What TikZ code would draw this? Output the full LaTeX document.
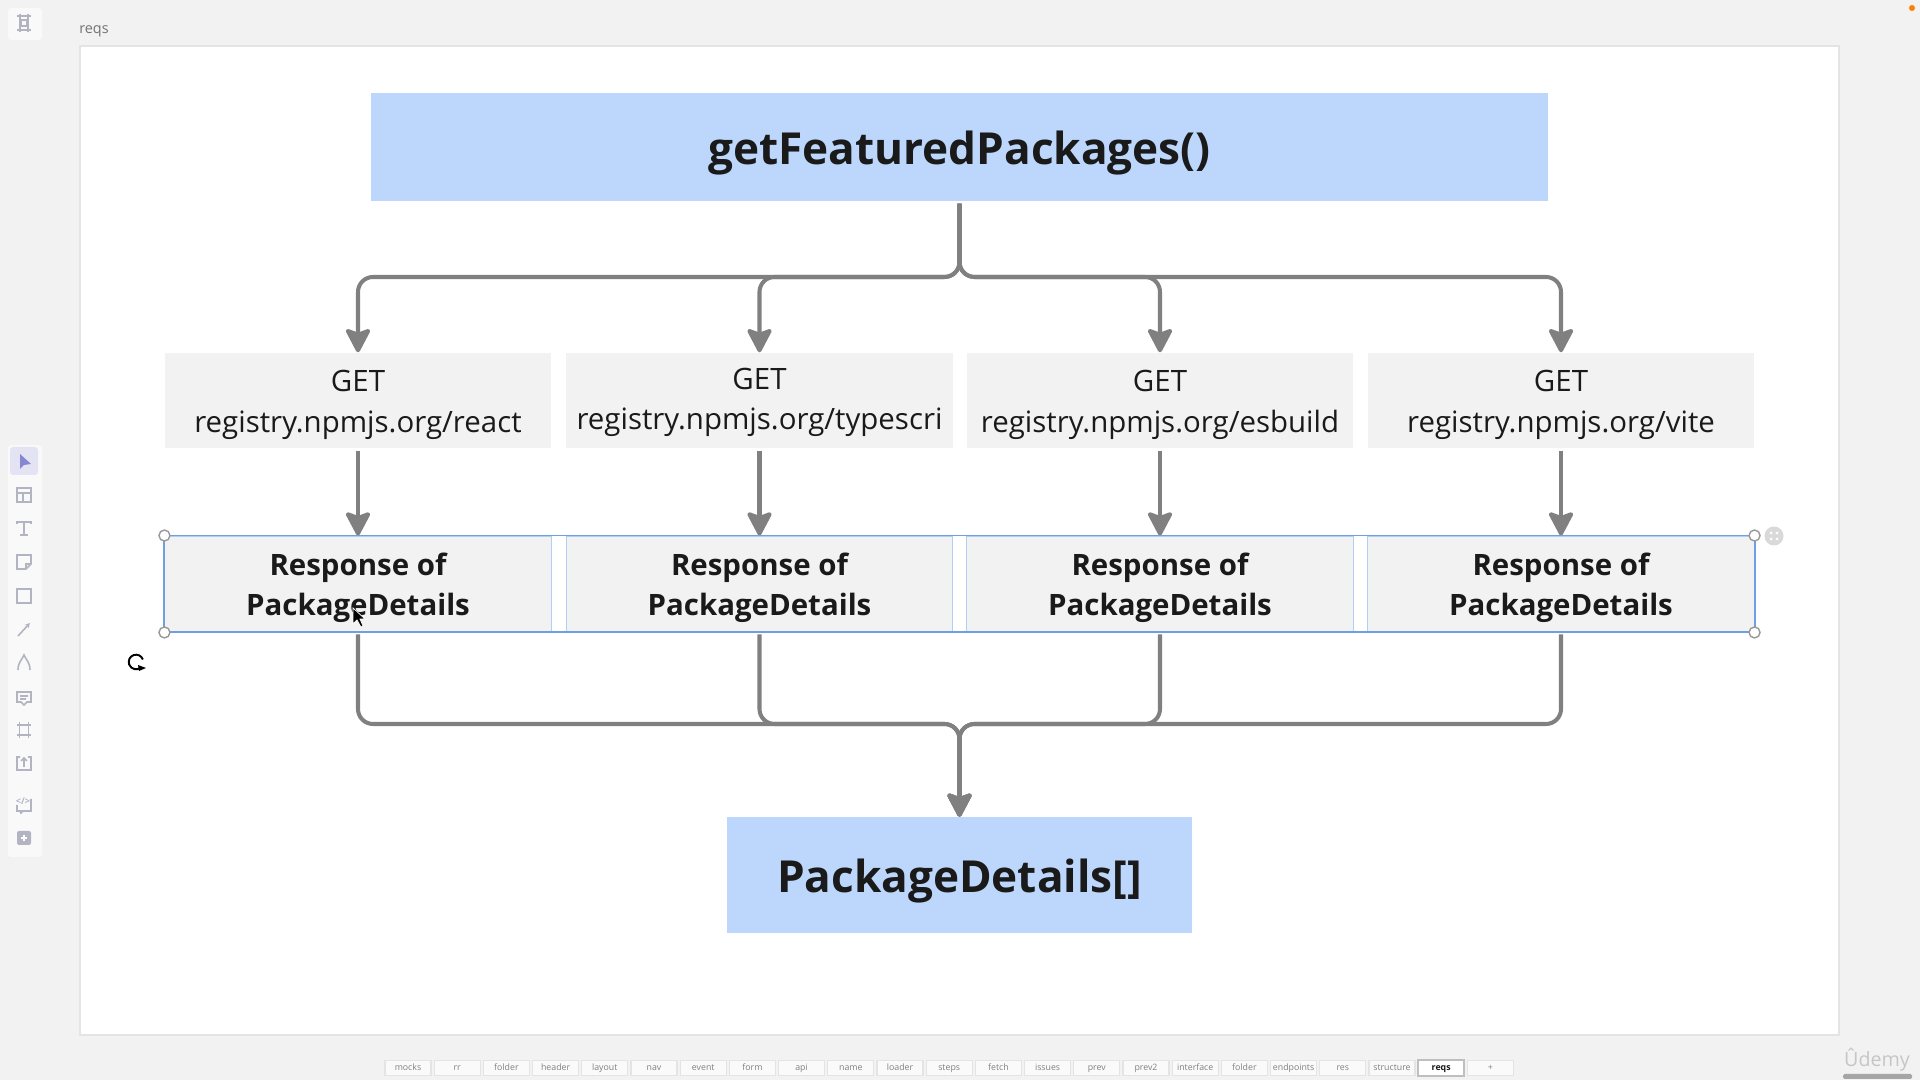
\documentclass[tikz,border=0pt]{standalone}
\usepackage{fontspec}
\setmainfont{Open Sans}
\usetikzlibrary{arrows.meta}
\definecolor{canvasgray}{HTML}{F2F2F2}
\definecolor{framegray}{HTML}{E4E4E4}
\definecolor{boxblue}{HTML}{BDD7FC}
\definecolor{boxgray}{HTML}{F2F2F2}
\definecolor{inkblack}{HTML}{1A1A1A}
\definecolor{linegray}{HTML}{808080}
\definecolor{selblue}{HTML}{6F9FE3}
\definecolor{sellight}{HTML}{B4CDF4}
\definecolor{icongray}{HTML}{B2B4C2}
\newcommand{\stacked}[3]{\raisebox{#1}[0pt][0pt]{\begin{tabular}{@{}c@{}}#2\\#3\end{tabular}}}
\tikzset{
  titlebox/.style={fill=boxblue,inner sep=0pt,text=inkblack,text height=10.4pt,text depth=0.5pt,font=\fontsize{12.55}{16}\selectfont\bfseries},
  getbox/.style={fill=boxgray,inner sep=0pt,minimum width=3.86cm,minimum height=0.95cm,text=inkblack,font=\fontsize{8.37}{11.4}\selectfont},
  respbox/.style={fill=boxgray,draw=sellight,line width=0.25pt,inner sep=0pt,minimum width=3.86cm,minimum height=0.96cm,text=inkblack,font=\fontsize{8.37}{11.4}\selectfont\bfseries},
  flow/.style={draw=linegray,line width=1.15pt,rounded corners=0.15cm,shorten <=0.02cm,-{Stealth[length=0.27cm,width=0.28cm,inset=0.05cm,round]}},
  handle/.style={circle,draw=gray!80,fill=white,line width=0.4pt,minimum size=0.11cm,inner sep=0pt},
  tab/.style={fill=white!60!canvasgray,draw=framegray,line width=0.3pt,minimum width=0.46cm,minimum height=0.155cm,inner sep=0pt,text=gray,text height=2pt,text depth=0.6pt,font=\fontsize{2.5}{3}\selectfont},
  icon/.style={draw=icongray,line width=0.45pt,fill=none},
}
\begin{document}
\begin{tikzpicture}[x=0.01cm,y=-0.01cm]
\useasboundingbox (0,0) rectangle (1920,1080);
\fill[canvasgray] (0,0) rectangle (1920,1080);
% frame
\fill[white,draw=framegray,line width=0.4pt] (80,46) rectangle (1839,1035);
\node[text=gray!90!black,font=\fontsize{4.1}{5}\selectfont,inner sep=0pt] (framename) at (94,31) {reqs};

% main boxes
\node[titlebox,minimum width=11.77cm,minimum height=1.08cm] (top) at (959.5,147) {getFeaturedPackages()};
\node[titlebox,minimum width=4.64cm,minimum height=1.15cm] (result) at (959.5,875) {PackageDetails[]};

% requests
\node[getbox] (get1) at (358,400.5) {\stacked{-3pt}{GET}{registry.npmjs.org/react}};
\node[getbox] (get2) at (759.5,400.5) {\stacked{-2.3pt}{GET}{registry.npmjs.org/typescri}};
\node[getbox] (get3) at (1160,400.5) {\stacked{-3pt}{GET}{registry.npmjs.org/esbuild}};
\node[getbox] (get4) at (1561,400.5) {\stacked{-3pt}{GET}{registry.npmjs.org/vite}};

% responses
\node[respbox] (resp1) at (358,584) {\stacked{-3pt}{Response of}{PackageDetails}};
\node[respbox] (resp2) at (759.5,584) {\stacked{-3pt}{Response of}{PackageDetails}};
\node[respbox] (resp3) at (1160,584) {\stacked{-3pt}{Response of}{PackageDetails}};
\node[respbox] (resp4) at (1561,584) {\stacked{-3pt}{Response of}{PackageDetails}};

% connectors
\coordinate (busa) at (959.5,277);
\coordinate (busb) at (959.5,724);
\draw[flow] (top.south) -- (busa) -| (get1.north);
\draw[flow] (top.south) -- (busa) -| (get2.north);
\draw[flow] (top.south) -- (busa) -| (get3.north);
\draw[flow] (top.south) -- (busa) -| (get4.north);
\draw[flow] (get1.south) -- (resp1.north);
\draw[flow] (get2.south) -- (resp2.north);
\draw[flow] (get3.south) -- (resp3.north);
\draw[flow] (get4.south) -- (resp4.north);
\draw[flow] (resp1.south) |- (busb) -- (result.north);
\draw[flow] (resp2.south) |- (busb) -- (result.north);
\draw[flow] (resp3.south) |- (busb) -- (result.north);
\draw[flow] (resp4.south) |- (busb) -- (result.north);

% selection
\draw[selblue,line width=0.55pt] (resp1.north west) rectangle (resp4.south east);
\node[handle] (hnw) at (resp1.north west) {};
\node[handle] (hsw) at (resp1.south west) {};
\node[handle] (hne) at (resp4.north east) {};
\node[handle] (hse) at (resp4.south east) {};
\fill[gray!30] (1774,536) circle (9.5);
\fill[white] (1771,533) circle (1.5) (1777,533) circle (1.5) (1771,539) circle (1.5) (1777,539) circle (1.5);
\draw[black,line width=0.55pt] (142.9,659.5) arc[start angle=-20,end angle=-300,radius=7.3];
\fill[black] (138,665) -- (146,668) -- (139,671) -- cycle;
\fill[black,draw=white,line width=0.2pt] (353,608) -- (353,624) -- (357,620) -- (361,627) -- (363,626) -- (360,619) -- (365,619) -- cycle;

% toolbars
\fill[white!50!canvasgray,rounded corners=0.03cm] (8,8) rectangle (42,40);
\fill[white!50!canvasgray,rounded corners=0.03cm] (8,445) rectangle (42,857);
\fill[blue!6!canvasgray,rounded corners=0.03cm] (10,447) rectangle (38,475);
\draw[icon] (17,16) -- (31,16) (17,30) -- (31,30) (20,14) -- (20,32) (28,14) -- (28,32) (21,20) rectangle (27,26);
\fill[blue!25!icongray] (20,454) -- (20,469) -- (24,465) -- (31,464) -- cycle;
\draw[icon] (17,488) rectangle (31,502) (17,493) -- (31,493) (23,493) -- (23,502);
\draw[icon] (17,524) -- (17,522) -- (31,522) -- (31,524) (24,522) -- (24,535) (20,535) -- (28,535);
\draw[icon] (31,564) -- (31,555) -- (17,555) -- (17,569) -- (26,569) -- cycle (26,569) -- (26,564) -- (31,564);
\draw[icon] (17,589) rectangle (31,603);
\draw[icon,-{Stealth[length=0.05cm,width=0.05cm]}] (18,636) -- (30,623);
\draw[icon] (18,670) .. controls (18,662) and (22,660) .. (24,655) .. controls (26,660) and (30,662) .. (30,670);
\draw[icon] (17,692) -- (31,692) -- (31,702) -- (27,702) -- (24,705) -- (21,702) -- (17,702) -- cycle (20,696) -- (28,696) (20,699) -- (26,699);
\draw[icon] (17,725) -- (31,725) (17,735) -- (31,735) (19.5,722) -- (19.5,738) (28.5,722) -- (28.5,738);
\draw[icon] (20,757) -- (17,757) -- (17,770) -- (31,770) -- (31,757) -- (28,757) (24,767) -- (24,758) (21,761) -- (24,758) -- (27,761);
\draw[icon] (17,805) -- (17,811) -- (31,811) -- (31,799) (20,811) -- (21,813) -- (23,811);
\fill[icongray,rounded corners=0.02cm] (17,831) rectangle (31,845);
\draw[white,line width=0.5pt] (21,838) -- (27,838) (24,835) -- (24,841);
\node[text=icongray,font=\fontsize{2.6}{3}\selectfont\bfseries,inner sep=0pt] (codetag) at (23,801) {</>};

% tabs
\foreach \i/\t in {0/mocks,1/rr,2/folder,3/header,4/layout,5/nav,6/event,7/form,8/api,9/name,10/loader,11/steps,12/fetch,13/issues,14/prev,15/prev2,16/interface,17/folder,18/endpoints,19/res,20/structure,22/+}
  \node[tab] (tab\i) at (408+\i*49.2,1068) {\t};
\node[tab,draw=gray!50,line width=0.6pt,fill=white,text=inkblack,font=\fontsize{2.5}{3}\selectfont\bfseries] (tab21) at (1441.2,1068) {reqs};

% watermark
\fill[orange] (1912,8) circle (3);
\node[text=gray!45,font=\fontsize{5.6}{6}\selectfont,inner sep=0pt] (udemy) at (1877,1060) {Ûdemy};
\fill[gray!70,rounded corners=0.015cm] (1843,1074) rectangle (1912,1079);
\end{tikzpicture}
\end{document}
